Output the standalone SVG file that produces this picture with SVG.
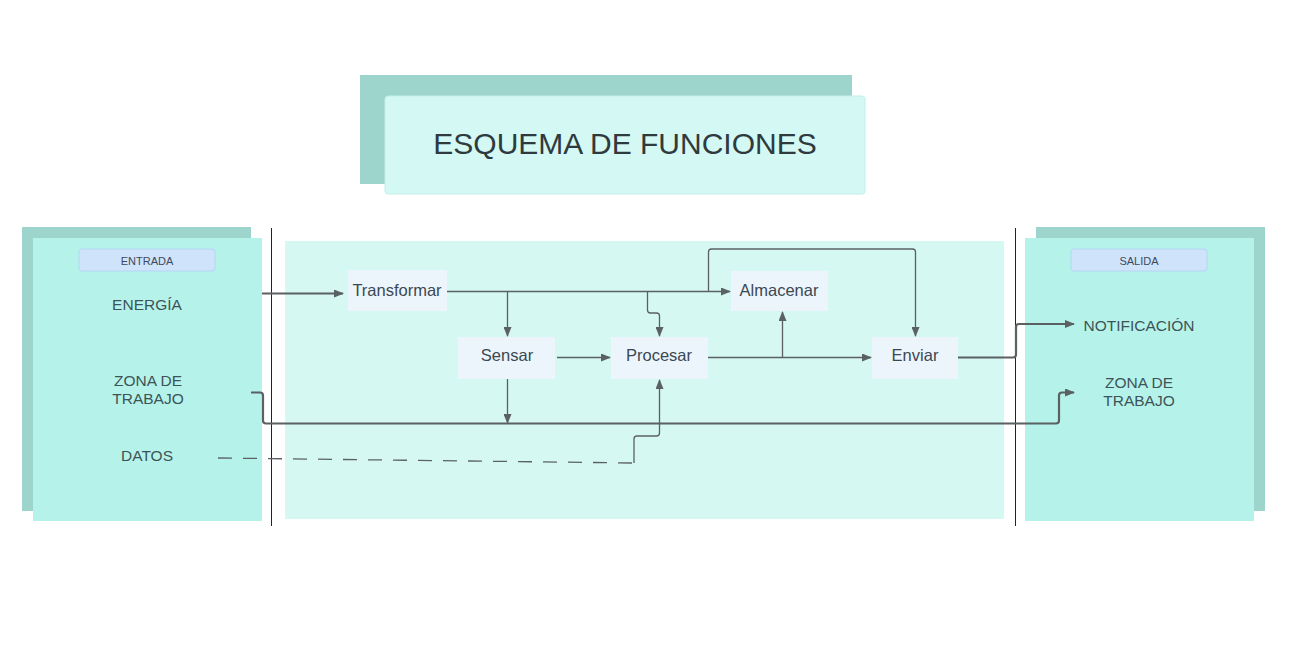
<svg xmlns="http://www.w3.org/2000/svg" width="1306" height="651" viewBox="0 0 1306 651">
<style>
.t{font-family:"Liberation Sans",Arial,sans-serif;text-anchor:middle;dominant-baseline:central}
.lbl{font-size:15.5px;fill:#3e5357}
.node rect{fill:#edf5fc}
.node text{font-size:16.5px;fill:#3b4852}
.tag rect{fill:#cfe3fb;stroke:#b6d4f4;stroke-width:1}
.tag text{font-size:11px;fill:#3b4a5a}
.ln{fill:none;stroke:#5b6163;stroke-width:1.3}
.th{fill:none;stroke:#5b6163;stroke-width:2.2}
</style>
<defs>
<marker id="ah" markerWidth="10" markerHeight="8" refX="9" refY="4" orient="auto" markerUnits="userSpaceOnUse">
<path d="M0,0 L10,4 L0,8 Z" fill="#5b6163"/>
</marker>
</defs>
<rect width="1306" height="651" fill="#ffffff"/>
<g id="title">
<rect x="360" y="75" width="492" height="109" fill="#9dd4cc"/>
<rect x="385" y="96" width="480" height="98" rx="3" fill="#d4f8f3" stroke="#c2efe8"/>
<text class="t" x="625" y="143" font-size="30" fill="#2f3a3f">ESQUEMA DE FUNCIONES</text>
</g>
<g id="entrada">
<rect x="22" y="227" width="229" height="284" fill="#9dd4cc"/>
<rect x="33" y="238" width="229" height="283" fill="#b5f3ea"/>
<g class="tag"><rect x="79" y="249" width="136" height="22" rx="3"/><text class="t" x="147" y="261">ENTRADA</text></g>
<text class="t lbl" x="147" y="304">ENERGÍA</text>
<text class="t lbl" x="148" y="380">ZONA DE</text>
<text class="t lbl" x="148" y="398">TRABAJO</text>
<text class="t lbl" x="147" y="455">DATOS</text>
</g>
<g id="proceso">
<rect x="285" y="241" width="719" height="278" fill="#d5f8f3"/>
</g>
<g id="salida">
<rect x="1036" y="227" width="229" height="284" fill="#9dd4cc"/>
<rect x="1025" y="238" width="229" height="283" fill="#b5f3ea"/>
<g class="tag"><rect x="1071" y="249" width="136" height="22" rx="3"/><text class="t" x="1139" y="261">SALIDA</text></g>
<text class="t lbl" x="1139" y="325">NOTIFICACIÓN</text>
<text class="t lbl" x="1139" y="382">ZONA DE</text>
<text class="t lbl" x="1139" y="400">TRABAJO</text>
</g>
<g id="separadores">
<line x1="271.5" y1="228" x2="271.5" y2="526" stroke="#222" stroke-width="1"/>
<line x1="1015.5" y1="228" x2="1015.5" y2="526" stroke="#222" stroke-width="1"/>
</g>
<g id="transformar" class="node"><rect x="348" y="270" width="99" height="41"/><text class="t" x="397" y="290">Transformar</text></g>
<g id="sensar" class="node"><rect x="458" y="337" width="97" height="42"/><text class="t" x="507" y="355">Sensar</text></g>
<g id="procesar" class="node"><rect x="611" y="337" width="97" height="42"/><text class="t" x="659" y="355">Procesar</text></g>
<g id="almacenar" class="node"><rect x="731" y="271" width="97" height="40"/><text class="t" x="779" y="290">Almacenar</text></g>
<g id="enviar" class="node"><rect x="872" y="337" width="86" height="42"/><text class="t" x="915" y="355">Enviar</text></g>
<g id="connectors">
<path class="th" d="M262,293.5 H343" marker-end="url(#ah)"/>
<path class="ln" d="M447,291.5 H730" marker-end="url(#ah)"/>
<path class="ln" d="M507.5,291.5 V336" marker-end="url(#ah)"/>
<path class="ln" d="M647.5,291.5 V310 Q647.5,313 650.5,313 H656.5 Q659.5,313 659.5,316 V336" marker-end="url(#ah)"/>
<path class="ln" d="M708.5,291.5 V252 Q708.5,249 711.5,249 H912.5 Q915.5,249 915.5,252 V336" marker-end="url(#ah)"/>
<path class="ln" d="M557,357.5 H610" marker-end="url(#ah)"/>
<path class="ln" d="M507.5,379 V423" marker-end="url(#ah)"/>
<path class="ln" d="M708,357.5 H871" marker-end="url(#ah)"/>
<path class="ln" d="M782.5,357.5 V312" marker-end="url(#ah)"/>
<path class="th" d="M958,357.5 H1013 Q1016,357.5 1016,354.5 V327 Q1016,324 1019,324 H1074" marker-end="url(#ah)"/>
<path class="th" d="M251,392.5 H260 Q263,392.5 263,395.5 V420.5 Q263,423.5 266,423.5 H1056 Q1059,423.5 1059,420.5 V395.5 Q1059,392.5 1062,392.5 H1074" marker-end="url(#ah)"/>
<path class="ln" d="M218,458 L634,463" stroke-dasharray="14,11"/>
<path class="ln" d="M634,463 V439 Q634,436 637,436 H656.5 Q659.5,436 659.5,433 V380" marker-end="url(#ah)"/>
</g>
</svg>
